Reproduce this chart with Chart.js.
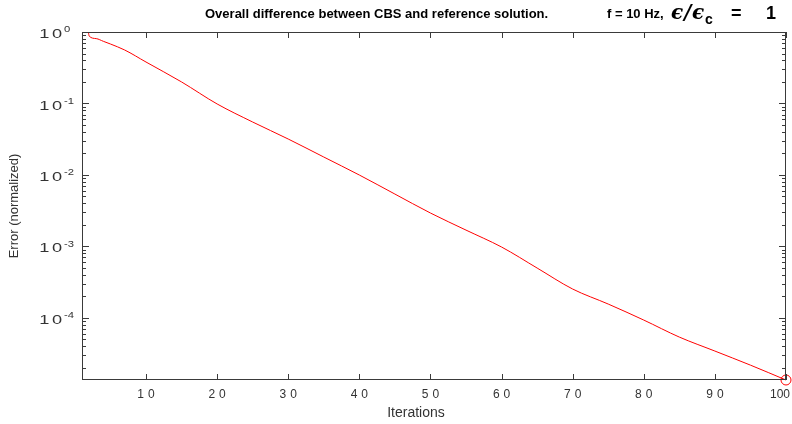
<!DOCTYPE html>
<html>
<head>
<meta charset="utf-8">
<script src="https://cdn.jsdelivr.net/npm/chart.js@4.4.1/dist/chart.umd.min.js"></script>
<style>
  html, body { margin: 0; padding: 0; background: #fff; }
  #wrap { width: 792px; height: 424px; }
</style>
</head>
<body>
<div id="wrap"><canvas id="errChart"></canvas></div>
<script>
// iteration number vs normalized error of the CBS solution
const iterations = [1.9, 2, 3, 4, 5, 7, 10, 15, 20, 25, 30, 35, 40, 45, 50, 55, 60, 65, 70, 75,
  80, 85, 90, 95, 100];
const errorNorm = [1.0, 0.879, 0.808, 0.741, 0.679, 0.56, 0.380, 0.200, 0.0984, 0.0550, 0.0318,
  0.0178, 0.00997, 0.00540, 0.00293, 0.00169, 0.00098, 0.000498, 0.000253, 0.000156, 0.0000931,
  0.0000538, 0.0000343, 0.0000218, 0.0000135];

const xTicks = [10, 20, 30, 40, 50, 60, 70, 80, 90, 100];
const yExponents = [0, -1, -2, -3, -4];
const xRange = [1, 100];
const yRange = [1.35e-5, 1];

const titleText = 'Overall difference between CBS and reference solution.';
const freqText = 'f = 10 Hz,';
const xTitle = 'Iterations';
const yTitle = 'Error (normalized)';

const axisColor = '#3a3a3a';
const textColor = '#333333';

const points = iterations.map((it, i) => ({ x: it, y: errorNorm[i] }));

// box, inward ticks and all the text drawn by hand (MATLAB look)
const axesDecor = {
  id: 'axesDecor',
  afterDatasetsDraw(chart) {
    const { ctx, chartArea: a, scales } = chart;
    const xs = scales.x, ys = scales.y;
    ctx.save();
    ctx.strokeStyle = axisColor;
    ctx.lineWidth = 1;
    ctx.strokeRect(Math.round(a.left) + 0.5, Math.round(a.top) + 0.5,
      Math.round(a.right - a.left) - 1, Math.round(a.bottom - a.top) - 1);

    ctx.beginPath();
    xTicks.forEach(v => {
      const px = Math.round(xs.getPixelForValue(v)) + 0.5;
      ctx.moveTo(px, a.bottom); ctx.lineTo(px, a.bottom - 6);
      ctx.moveTo(px, a.top); ctx.lineTo(px, a.top + 6);
    });
    for (let e = 0; e >= -5; e--) {
      for (let m = 1; m <= 9; m++) {
        const v = m * Math.pow(10, e);
        if (v < yRange[0] || v > yRange[1]) continue;
        const py = Math.round(ys.getPixelForValue(v)) + 0.5;
        const len = m === 1 ? 7 : 4;
        ctx.moveTo(a.left, py); ctx.lineTo(a.left + len, py);
        ctx.moveTo(a.right, py); ctx.lineTo(a.right - len, py);
      }
    }
    ctx.stroke();

    // x tick labels (MATLAB spreads the two-digit ones)
    ctx.fillStyle = textColor;
    ctx.font = '12px "Liberation Sans", Arial, sans-serif';
    ctx.textAlign = 'center';
    ctx.textBaseline = 'middle';
    xTicks.forEach(v => {
      const px = Math.min(xs.getPixelForValue(v), 780);
      const sp = v === 100 ? 0 : 4;
      ctx.letterSpacing = sp + 'px';
      ctx.fillText(String(v), px + sp / 2, 395);
    });
    ctx.letterSpacing = '0px';

    // y tick labels 10^k, wide glyphs
    yExponents.forEach(k => {
      const py = ys.getPixelForValue(Math.pow(10, k));
      ctx.save();
      ctx.translate(65, py + 2.5);
      ctx.scale(1.4, 1);
      ctx.textAlign = 'right';
      ctx.font = '13px "Liberation Sans", Arial, sans-serif';
      ctx.letterSpacing = '2px';
      ctx.fillText('10', 0, 0);
      ctx.restore();
      ctx.save();
      ctx.translate(64, py - 2);
      ctx.scale(1.25, 1);
      ctx.textAlign = 'left';
      ctx.letterSpacing = '0px';
      ctx.font = '9px "Liberation Sans", Arial, sans-serif';
      ctx.fillText(String(k), 0, 0);
      ctx.restore();
    });
    ctx.letterSpacing = '0px';

    // axis titles
    ctx.font = '14px "Liberation Sans", Arial, sans-serif';
    ctx.textAlign = 'center';
    ctx.fillText(xTitle, 416, 413);
    ctx.save();
    ctx.translate(14, (a.top + a.bottom) / 2);
    ctx.rotate(-Math.PI / 2);
    ctx.font = '13px "Liberation Sans", Arial, sans-serif';
    ctx.fillText(yTitle, 0, 0);
    ctx.restore();

    // title
    ctx.fillStyle = '#000';
    ctx.textBaseline = 'alphabetic';
    ctx.textAlign = 'left';
    ctx.font = 'bold 13px "Liberation Sans", Arial, sans-serif';
    ctx.fillText(titleText, 205, 18);
    ctx.fillText(freqText, 607, 18);

    // eps/eps_c = 1 in TeX style
    const epsFont = 'bold italic 20px "DejaVu Serif", serif';
    const mathFont = 'bold 18px "Liberation Sans", Arial, sans-serif';
    const parts = [
      { t: '\u03F5', f: epsFont, x: 671, dy: 0 },
      { t: '/', f: epsFont, x: 684, dy: 0 },
      { t: '\u03F5', f: epsFont, x: 692, dy: 0 },
      { t: 'c', f: 'bold 14px "Liberation Sans", Arial, sans-serif', x: 705, dy: 5 },
      { t: '=', f: mathFont, x: 731, dy: 0 },
      { t: '1', f: mathFont, x: 766, dy: 0 }
    ];
    parts.forEach(p => {
      ctx.font = p.f;
      ctx.fillText(p.t, p.x, 19 + p.dy);
    });
    ctx.restore();
  }
};

new Chart(document.getElementById('errChart'), {
  type: 'line',
  data: {
    datasets: [{
      data: points,
      borderColor: '#ff0000',
      borderWidth: 1,
      cubicInterpolationMode: 'monotone',
      fill: false,
      pointRadius: points.map((_, i) => i === points.length - 1 ? 5 : 0),
      pointStyle: 'circle',
      pointBorderColor: '#ff0000',
      pointBackgroundColor: 'rgba(0,0,0,0)',
      pointBorderWidth: 1,
      clip: false
    }]
  },
  options: {
    responsive: true,
    maintainAspectRatio: false,
    animation: false,
    layout: { padding: { left: 82, top: 32, right: 5, bottom: 44 } },
    plugins: { legend: { display: false }, tooltip: { enabled: false }, title: { display: false } },
    scales: {
      x: { type: 'linear', display: false, min: xRange[0], max: xRange[1] },
      y: { type: 'logarithmic', display: false, min: yRange[0], max: yRange[1] }
    }
  },
  plugins: [axesDecor]
});
</script>
</body>
</html>
